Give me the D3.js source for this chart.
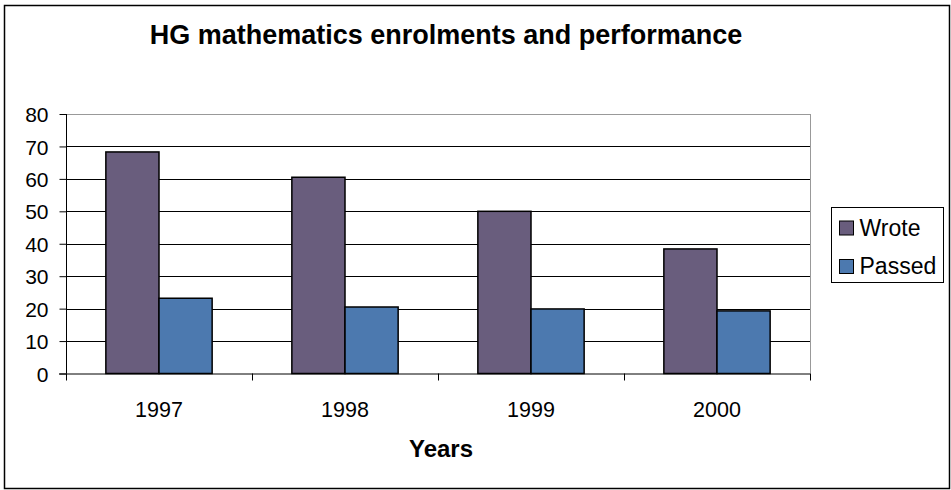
<!DOCTYPE html>
<html>
<head>
<meta charset="utf-8">
<script src="https://cdn.jsdelivr.net/npm/d3@7"></script>
<style>
  body { margin: 0; background: #fff; }
  text { font-family: Arial, "Liberation Sans", sans-serif; fill: #000; }
</style>
</head>
<body>
<svg id="chart" width="951" height="490"></svg>
<script>
'use strict'

// chart data
const years = ['1997', '1998', '1999', '2000']
const series = ['Wrote', 'Passed']
const wrote = [68.3, 60.5, 50, 38.4]
const passed = [23.2, 20.5, 19.9, 19.3]
const yTicks = [0, 10, 20, 30, 40, 50, 60, 70, 80]
const colors = ['#695D7D', '#4C79AF']

const svg = d3.select('#chart')

// plot area
const plot = {left: 66, right: 810, top: 114, bottom: 373.5}

const x = d3.scaleBand()
  .domain(years)
  .range([plot.left, plot.right])
  .paddingInner(1.5 / 3.5)
  .paddingOuter(0.75 / 3.5)

const xSub = d3.scaleBand()
  .domain(series)
  .range([0, x.bandwidth()])

const y = d3.scaleLinear()
  .domain([0, 80])
  .range([plot.bottom, plot.top])

// outer border
svg.append('rect')
  .attr('x', 4.5).attr('y', 5.5)
  .attr('width', 945).attr('height', 483)
  .attr('fill', 'none')
  .attr('stroke', '#000')
  .attr('stroke-width', 1.5)

// title
svg.append('text')
  .attr('x', 446).attr('y', 44)
  .attr('text-anchor', 'middle')
  .style('font-weight', 'bold')
  .style('font-size', '27px')
  .text('HG mathematics enrolments and performance')

// gridlines
svg.append('g')
  .selectAll('line')
  .data(yTicks.filter(d => d > 0))
  .enter().append('line')
  .attr('x1', plot.left).attr('x2', plot.right)
  .attr('y1', d => Math.round(y(d)) + 0.5)
  .attr('y2', d => Math.round(y(d)) + 0.5)
  .attr('stroke', d => d === 80 ? '#999' : '#000')

// right border of plot area
svg.append('line')
  .attr('x1', plot.right + 0.5).attr('x2', plot.right + 0.5)
  .attr('y1', plot.top).attr('y2', plot.bottom)
  .attr('stroke', '#999')

// bars
const data = years.map((yr, i) => ({year: yr, values: [wrote[i], passed[i]]}))
svg.append('g')
  .selectAll('g')
  .data(data)
  .enter().append('g')
  .attr('transform', d => `translate(${x(d.year)},0)`)
  .selectAll('rect')
  .data(d => d.values.map((v, j) => ({key: series[j], value: v, j})))
  .enter().append('rect')
  .attr('x', d => xSub(d.key))
  .attr('y', d => y(d.value))
  .attr('width', xSub.bandwidth())
  .attr('height', d => y(0) - y(d.value))
  .attr('fill', d => colors[d.j])
  .attr('stroke', '#000')
  .attr('stroke-width', 1.5)

// y axis
const yAxis = svg.append('g')
  .attr('transform', `translate(${plot.left + 0.5},0)`)
  .call(d3.axisLeft(y).tickValues(yTicks).tickSize(7).tickPadding(11))
yAxis.selectAll('text').style('font-size', '21px').attr('dy', '0.36em')
yAxis.select('.domain').attr('d', `M0,${plot.top}V${plot.bottom}`)

// x axis with ticks between categories
const xAxis = svg.append('g')
  .attr('transform', `translate(0,${plot.bottom})`)
xAxis.append('line')
  .attr('x1', plot.left - 7).attr('x2', plot.right)
  .attr('y1', 0.5).attr('y2', 0.5)
  .attr('stroke', '#000')
const bounds = years.map(d => x(d) - x.step() * x.paddingOuter()).concat([plot.right])
xAxis.selectAll('line.tick')
  .data(bounds)
  .enter().append('line')
  .attr('class', 'tick')
  .attr('x1', d => Math.round(d) + 0.5).attr('x2', d => Math.round(d) + 0.5)
  .attr('y1', 0).attr('y2', 7)
  .attr('stroke', '#000')
xAxis.selectAll('text')
  .data(years)
  .enter().append('text')
  .attr('x', d => x(d) + x.bandwidth() / 2)
  .attr('y', 43)
  .attr('text-anchor', 'middle')
  .style('font-size', '21.5px')
  .text(d => d)

// x axis title
svg.append('text')
  .attr('x', 441).attr('y', 457)
  .attr('text-anchor', 'middle')
  .style('font-weight', 'bold')
  .style('font-size', '24px')
  .text('Years')

// legend
const legend = svg.append('g')
legend.append('rect')
  .attr('x', 831.5).attr('y', 207.5)
  .attr('width', 112).attr('height', 75)
  .attr('fill', '#fff')
  .attr('stroke', '#000')
const items = legend.selectAll('g')
  .data(series)
  .enter().append('g')
  .attr('transform', (d, i) => `translate(839.5,${221 + i * 38.5})`)
items.append('rect')
  .attr('width', 14).attr('height', 14)
  .attr('fill', (d, i) => colors[i])
  .attr('stroke', '#000')
items.append('text')
  .attr('x', 20).attr('y', 14.5)
  .style('font-size', '23px')
  .text(d => d)
</script>
</body>
</html>
